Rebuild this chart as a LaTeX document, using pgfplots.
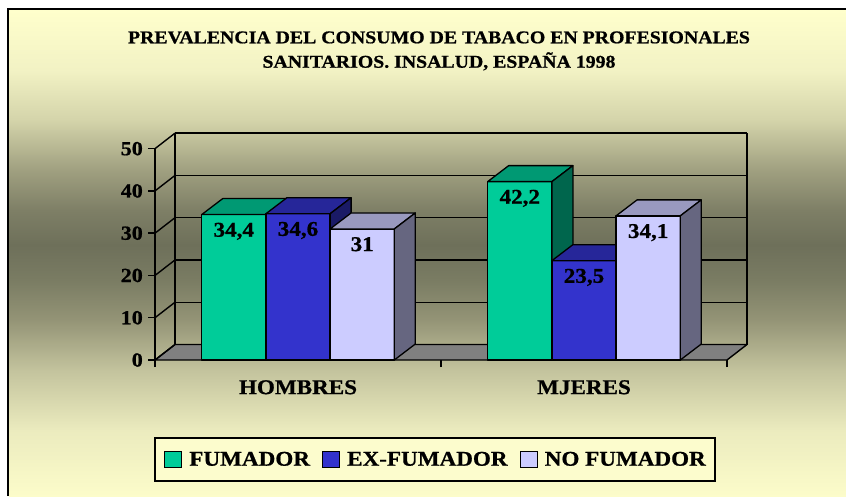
\documentclass[border=0pt]{standalone}
\usepackage{fontspec}
\setmainfont{Liberation Serif}[FakeStretch=1.1, BoldFeatures={FakeBold=0.8}]
\usepackage{pgfplots}
\usepackage{pgfplotstable}
\pgfplotsset{compat=1.18}

\definecolor{fumF}{HTML}{00CC99}\definecolor{fumT}{HTML}{009973}\definecolor{fumS}{HTML}{00664D}
\definecolor{exF}{HTML}{3333CC}\definecolor{exT}{HTML}{262699}\definecolor{exS}{HTML}{1A1A66}
\definecolor{noF}{HTML}{CCCCFF}\definecolor{noT}{HTML}{9999BF}\definecolor{noS}{HTML}{666680}
\definecolor{bgTop}{HTML}{FFFFCC}\definecolor{legBg}{HTML}{FCFCCD}\definecolor{floorC}{HTML}{808080}

% background: light yellow -> olive grey (about y=245 px) -> light yellow
\pgfdeclareverticalshading{bgshade}{100bp}{%
  rgb(0bp)=(0.988,0.988,0.792);
  rgb(25bp)=(0.988,0.988,0.792);
  rgb(31.79bp)=(0.922,0.922,0.745);
  rgb(37.96bp)=(0.765,0.765,0.616);
  rgb(43.11bp)=(0.580,0.580,0.463);
  rgb(47.22bp)=(0.478,0.486,0.388);
  rgb(50.82bp)=(0.431,0.439,0.353);
  rgb(54.42bp)=(0.494,0.498,0.400);
  rgb(58.54bp)=(0.627,0.627,0.502);
  rgb(63.68bp)=(0.831,0.831,0.667);
  rgb(68.83bp)=(0.949,0.949,0.769);
  rgb(75bp)=(1,1,0.8);
  rgb(100bp)=(1,1,0.8)}

% x = 0 HOMBRES, 1 MJERES
\pgfplotstableread{
x y
0 34.4
1 42.2
}\fumador
\pgfplotstableread{
x y
0 34.6
1 23.5
}\exfumador
\pgfplotstableread{
x y
0 31
1 34.1
}\nofumador

\pgfplotsset{
  bar3d/.style n args={4}{
    only marks, mark=text, text mark={},
    scatter,
    visualization depends on={rawy \as \valy},
    scatter/@pre marker code/.code={%
      \begin{pgfscope}%
      \pgftransformxshift{#4}%
      \pgfmathsetmacro\barh{\valy*4.227}%
      \pgfmathsetmacro\barhb{16-\barh}%
      \filldraw[fill=#1, draw=black, line width=1.3pt, line join=round] (-32.1pt,0pt) rectangle (32.1pt,-\barh pt);
      \filldraw[fill=#2, draw=black, line width=1.3pt, line join=round] (-32.1pt,0pt) -- (32.1pt,0pt) -- (53.1pt,16pt) -- (-11.1pt,16pt) -- cycle;
      \filldraw[fill=#3, draw=black, line width=1.3pt, line join=round] (32.1pt,0pt) -- (53.1pt,16pt) -- (53.1pt,\barhb pt) -- (32.1pt,-\barh pt) -- cycle;
      \end{pgfscope}%
    },
    scatter/@post marker code/.code={},
  },
  vlabel/.style={draw=none, mark=none, nodes near coords,
    nodes near coords={\pgfmathprintnumber[fixed,precision=1,use comma,assume math mode=true]{\pgfplotspointmeta}},
    point meta=y,
    every node near coord/.append style={anchor=north, inner sep=0pt, xshift=#1, yshift=-8pt,
      font=\bfseries\fontsize{21pt}{21pt}\selectfont, text=black}},
}

\begin{document}
\begin{tikzpicture}
\fill[white] (0pt,0pt) rectangle (846pt,496pt);
\shade[shading=bgshade] (8.5pt,0pt) rectangle (846pt,486pt);
\draw[line width=2pt, black] (7.5pt,0pt) -- (7.5pt,487pt) -- (846pt,487pt);

\node[anchor=base, font=\bfseries\fontsize{18pt}{18pt}\selectfont] at (439pt,452.7pt) {PREVALENCIA DEL CONSUMO DE TABACO EN PROFESIONALES};
\node[anchor=base, font=\bfseries\fontsize{18pt}{18pt}\selectfont] at (439pt,428.3pt) {SANITARIOS. INSALUD, ESPAÑA 1998};

\begin{axis}[
  at={(155pt,136pt)}, anchor=south west,
  x=286pt, y=4.227pt,
  xmin=-0.5, xmax=1.5, ymin=0, ymax=50,
  axis line style={draw=none},
  clip=false,
  tick pos=left, tick align=outside,
  major tick length=7pt,
  tick style={black, line width=1.5pt},
  xtick={-0.5,0.5,1.5}, xticklabels={},
  extra x ticks={0,1}, extra x tick labels={HOMBRES,MJERES},
  extra x tick style={tick style={draw=none}},
  xticklabel style={font=\bfseries\fontsize{21pt}{21pt}\selectfont, inner sep=0pt, yshift=-13pt},
  ytick={0,10,20,30,40,50},
  yticklabel style={font=\bfseries\fontsize{20pt}{20pt}\selectfont, inner sep=0pt, xshift=-5pt},
  /pgf/number format/assume math mode=true,
  legend columns=3,
  legend image code/.code={\draw[#1, draw=black, line width=1.2pt] (0pt,-8pt) rectangle (17pt,8pt);},
  legend style={at={(0.4895,-0.4708)}, anchor=center, draw=black, line width=1.8pt, fill=legBg,
    font=\bfseries\fontsize{21pt}{21pt}\selectfont, inner xsep=9pt, inner ysep=13pt,
    nodes={inner sep=0pt},
    /tikz/every odd column/.append style={column sep=7pt},
    /tikz/every even column/.append style={column sep=12pt}},
]
% floor
\filldraw[fill=floorC, draw=black, line width=1.4pt, line join=round]
  (axis cs:-0.5,0) -- (axis cs:1.5,0) -- ([shift={(20pt,15.5pt)}]axis cs:1.5,0) -- ([shift={(20pt,15.5pt)}]axis cs:-0.5,0) -- cycle;
% walls
\pgfplotsinvokeforeach{0,10,20,30,40,50}{
  \draw[black, line width=1.4pt] (axis cs:-0.5,#1) -- ([shift={(20pt,15.5pt)}]axis cs:-0.5,#1);
}
\pgfplotsinvokeforeach{10,20,30,40,50}{
  \draw[black, line width=1.4pt] ([shift={(20pt,15.5pt)}]axis cs:-0.5,#1) -- ([shift={(20pt,15.5pt)}]axis cs:1.5,#1);
}
\draw[black, line width=1.4pt] ([shift={(20pt,15.5pt)}]axis cs:-0.5,0) -- ([shift={(20pt,15.5pt)}]axis cs:-0.5,50);
\draw[black, line width=1.4pt] ([shift={(20pt,15.5pt)}]axis cs:1.5,0) -- ([shift={(20pt,15.5pt)}]axis cs:1.5,50);
\draw[black, line width=1.4pt] (axis cs:-0.5,0) -- (axis cs:-0.5,50);

\addplot[bar3d={fumF}{fumT}{fumS}{-64.2pt}, forget plot] table[x=x,y=y] {\fumador};
\addplot[bar3d={exF}{exT}{exS}{0pt}, forget plot] table[x=x,y=y] {\exfumador};
\addplot[bar3d={noF}{noT}{noS}{64.2pt}, forget plot] table[x=x,y=y] {\nofumador};

\addplot[vlabel=-64.2pt, forget plot] table[x=x,y=y] {\fumador};
\addplot[vlabel=0pt, forget plot] table[x=x,y=y] {\exfumador};
\addplot[vlabel=64.2pt, forget plot] table[x=x,y=y] {\nofumador};

\addlegendimage{fill=fumF}\addlegendentry{FUMADOR}
\addlegendimage{fill=exF}\addlegendentry{EX-FUMADOR}
\addlegendimage{fill=noF}\addlegendentry{NO FUMADOR}
\end{axis}
\pgfresetboundingbox
\useasboundingbox (0pt,0pt) rectangle (846pt,496pt);
\end{tikzpicture}
\end{document}
